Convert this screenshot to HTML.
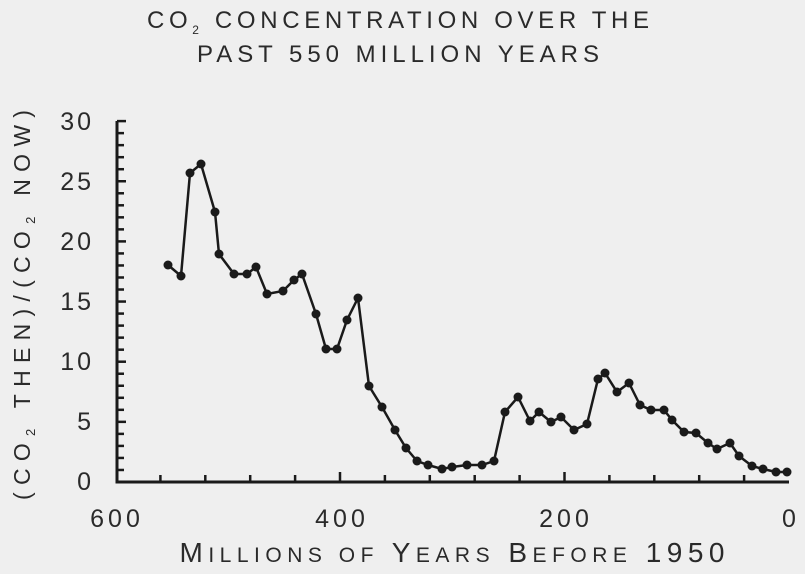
<!DOCTYPE html>
<html><head><style>
body{margin:0;background:#efefef;}
svg{display:block;font-family:"Liberation Sans",sans-serif;}
</style></head><body>
<svg width="805" height="574" viewBox="0 0 805 574">
<rect width="805" height="574" fill="#efefef"/>
<g fill="#2a2a2a" text-anchor="middle" font-size="24">
<text x="398" y="28" textLength="502" lengthAdjust="spacing">CO<tspan font-size="12" dy="6">2</tspan><tspan dy="-6"> CONCENTRATION OVER THE</tspan></text>
<text x="398" y="62" textLength="402" lengthAdjust="spacing">PAST 550 MILLION YEARS</text>
</g>
<g stroke="#1a1a1a" stroke-width="3" fill="none">
<path d="M117 121 V482 H789"/>
</g>
<g stroke="#1a1a1a" stroke-width="2.5" id="yt"></g>
<g fill="#2a2a2a" font-size="25" text-anchor="end" letter-spacing="3">
<text x="94" y="130">30</text><text x="94" y="190">25</text><text x="94" y="250">20</text>
<text x="94" y="310">15</text><text x="94" y="370">10</text><text x="94" y="430">5</text><text x="94" y="490">0</text>
</g>
<g fill="#2a2a2a" font-size="25" text-anchor="middle" letter-spacing="4">
<text x="117" y="527">600</text><text x="342" y="527">400</text><text x="566" y="527">200</text><text x="791" y="527">0</text>
</g>
<text x="452" y="562" text-anchor="middle" fill="#2a2a2a" font-size="28" textLength="545" lengthAdjust="spacing">M<tspan font-size="21">ILLIONS OF</tspan> Y<tspan font-size="21">EARS</tspan> B<tspan font-size="21">EFORE</tspan> 1950</text>
<text transform="translate(30,305) rotate(-90)" text-anchor="middle" fill="#2a2a2a" font-size="23" textLength="390" lengthAdjust="spacing">(CO<tspan font-size="13" dy="5">2</tspan><tspan dy="-5"> THEN)/(CO</tspan><tspan font-size="13" dy="5">2</tspan><tspan dy="-5"> NOW)</tspan></text>
<g id="xt" stroke="#1a1a1a" stroke-width="2.5"></g>
<polyline fill="none" stroke="#1a1a1a" stroke-width="2.5" points="168,265 181,276 190,173 201,164 215,212 219,254 234,274 247,274 256,267 267,294 283,291 294,280 302,274 316,314 326,349 337,349 347,320 358,298 369,386 382,407 395,430 406,448 417,461 428,465 442,469 452,467 467,465 482,465 494,461 505,412 518,397 530,421 539,412 551,422 561,417 574,430 587,424 598,379 605,373 617,392 629,383 640,405 651,410 664,410 672,420 684,432 696,433 708,443 717,449 730,443 739,456 752,466 763,469 776,472 787,472"/>
<g id="pts" fill="#1a1a1a"></g>
</svg>
<script>
var ns="http://www.w3.org/2000/svg";
var yt=document.getElementById("yt");
for(var i=0;i<=30;i++){var y=482-i*12.03;var l=document.createElementNS(ns,"line");l.setAttribute("x1",117);l.setAttribute("x2",i%5==0?126:124);l.setAttribute("y1",y);l.setAttribute("y2",y);yt.appendChild(l);}
var xt=document.getElementById("xt");
for(var k=1;k<=14;k++){var x=789-k*44.9;var l=document.createElementNS(ns,"line");l.setAttribute("x1",x);l.setAttribute("x2",x);l.setAttribute("y1",482);l.setAttribute("y2",k%5==0?472:475);xt.appendChild(l);}
var p=document.querySelector("polyline").getAttribute("points").trim().split(" ");
var g=document.getElementById("pts");
p.forEach(function(s){var a=s.split(",");var c=document.createElementNS(ns,"circle");c.setAttribute("cx",a[0]);c.setAttribute("cy",a[1]);c.setAttribute("r",4.5);g.appendChild(c);});
</script>
</body></html>
